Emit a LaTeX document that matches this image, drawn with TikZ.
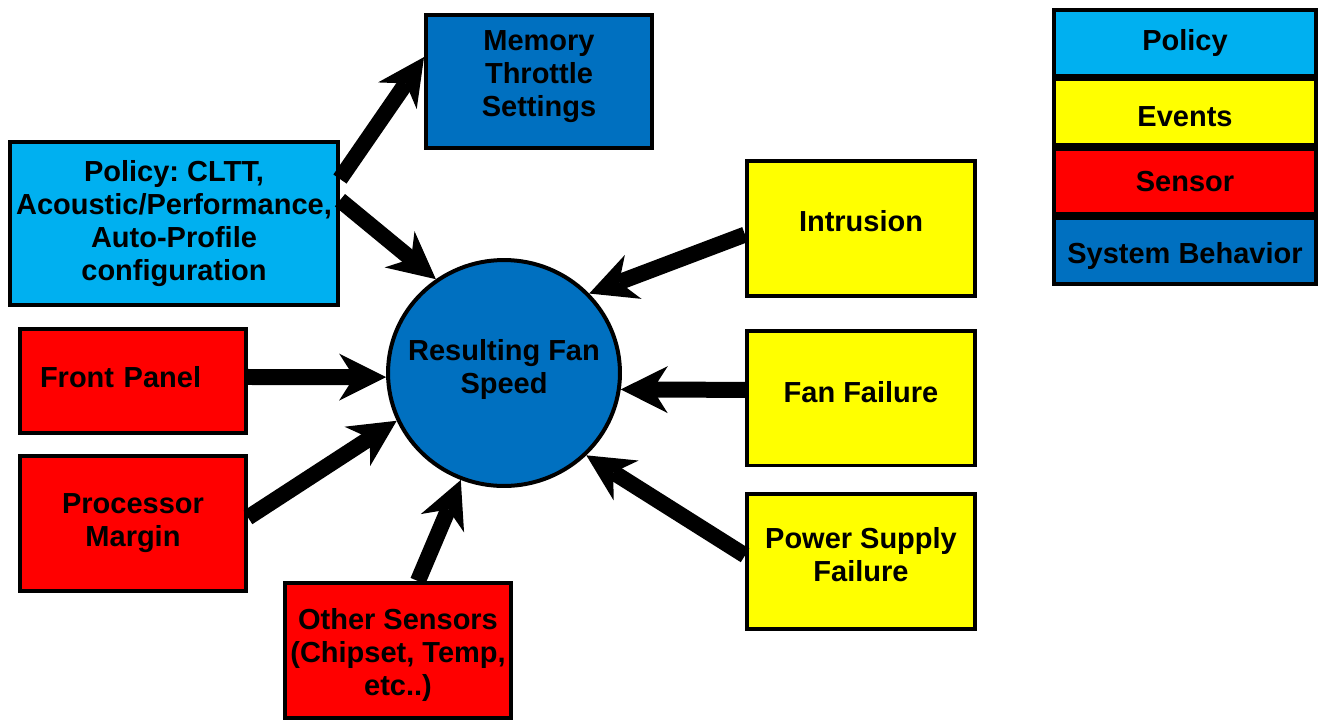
\documentclass[tikz,border=0pt]{standalone}
\usepackage{fontspec}
\setmainfont{Liberation Sans}
\usepackage{xcolor}
\usetikzlibrary{arrows.meta,positioning,shapes.geometric}
\definecolor{policyblue}{HTML}{00B0F0}
\definecolor{sysblue}{HTML}{0070C0}
\definecolor{eventyellow}{HTML}{FFFF00}
\definecolor{sensorred}{HTML}{FF0000}
\frenchspacing
\tikzset{
  box/.style={draw=black,line width=0.08cm,align=center,inner sep=2pt,font=\fontsize{16.5}{18.8}\selectfont\bfseries,minimum width=4.52cm,minimum height=2.7cm},
  polbox/.style={box,fill=policyblue},
  evbox/.style={box,fill=eventyellow,minimum width=4.56cm},
  senbox/.style={box,fill=sensorred},
  sysbox/.style={box,fill=sysblue},
  legbox/.style={minimum width=5.24cm,minimum height=1.31cm},
  arrow/.style={-{Stealth[length=0.94cm,width=0.94cm,inset=0.3cm,line width=0pt]},line width=0.32cm,draw=black}
}

\begin{document}
\begin{tikzpicture}[x=0.02cm,y=-0.02cm]
  \useasboundingbox (0,0) rectangle (1324,721);
  % inputs and result
  \node[sysbox,minimum height=2.66cm,text depth=0.32cm] (mem) at (539,81.5) {Memory\\Throttle\\Settings};
  \node[polbox,minimum width=6.56cm,minimum height=3.26cm] (pol) at (174,223.5) {Policy: CLTT,\\Acoustic/Performance,\\Auto-Profile\\configuration};
  \node[sysbox,ellipse,minimum width=4.64cm,minimum height=4.52cm,inner xsep=-0.3cm,text depth=0.28cm] (fan) at (504,373) {Resulting Fan\\Speed};
  \node[senbox,minimum height=2.08cm,text width=3.72cm,align=left,inner xsep=0.4cm,text depth=0.16cm] (front) at (133,381) {Front Panel};
  \node[senbox] (proc) at (133,523.5) {Processor\\Margin};
  \node[senbox,text height=1.94cm] (other) at (398,650.5) {Other Sensors\\(Chipset, Temp,\\etc..)};
  \node[evbox,text depth=0.32cm] (intr) at (861,228.5) {Intrusion};
  \node[evbox,text depth=0.24cm] (fanf) at (861,398) {Fan Failure};
  \node[evbox,text depth=0.28cm] (psu) at (861,561.5) {Power Supply\\Failure};
  % legend
  \node[polbox,legbox] (lpol) at (1185,42.75) {Policy};
  \node[evbox,legbox,below=0pt of lpol,text height=0.58cm] (lev) {Events};
  \node[senbox,legbox,below=0pt of lev] (lsen) {Sensor};
  \node[sysbox,legbox,below=0pt of lsen,text height=0.62cm] (lsys) {System Behavior};
  % connectors
  \draw[arrow] (pol.15) -- (mem.168);
  \draw[arrow] (pol.8) -- (fan.126);
  \draw[arrow] (front.2) -- (fan.182);
  \draw[arrow] (proc.3) -- (fan.204);
  \draw[arrow] (other.74) -- (fan.248);
  \draw[arrow] (intr.183) -- (fan.43);
  \draw[arrow] (fanf.176) -- (fan.352);
  \draw[arrow] (psu.177) -- (fan.315);
\end{tikzpicture}
\end{document}
